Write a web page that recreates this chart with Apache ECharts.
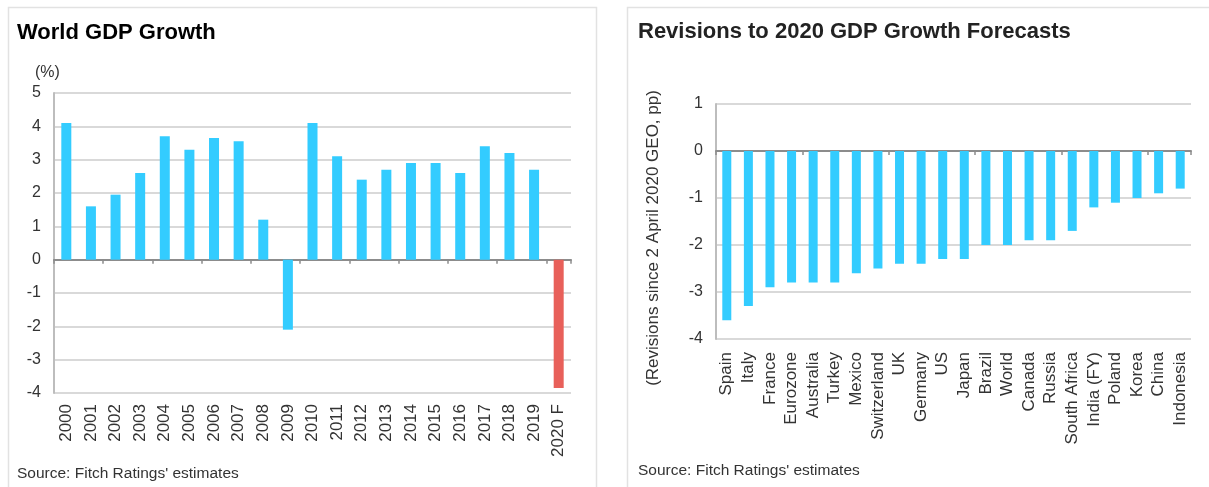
<!DOCTYPE html>
<html>
<head>
<meta charset="utf-8">
<script src="https://cdn.jsdelivr.net/npm/echarts@6/dist/echarts.min.js"></script>
<style>
  html, body { margin: 0; padding: 0; background: #fff; }
  #main { width: 1209px; height: 487px; }
</style>
</head>
<body>
<div id="main"></div>
<script>
  // left panel: world growth, %
  var years = ['2000', '2001', '2002', '2003', '2004', '2005', '2006', '2007', '2008', '2009',
    '2010', '2011', '2012', '2013', '2014', '2015', '2016', '2017', '2018', '2019', '2020 F']
  var worldGrowth = [4.1, 1.6, 1.95, 2.6, 3.7, 3.3, 3.65, 3.55, 1.2, -2.1,
    4.1, 3.1, 2.4, 2.7, 2.9, 2.9, 2.6, 3.4, 3.2, 2.7, -3.85]
  var forecastYear = '2020 F'

  // right panel: revisions since 2 April 2020 GEO, pp
  var countries = ['Spain', 'Italy', 'France', 'Eurozone', 'Australia', 'Turkey', 'Mexico',
    'Switzerland', 'UK', 'Germany', 'US', 'Japan', 'Brazil', 'World', 'Canada', 'Russia',
    'South Africa', 'India (FY)', 'Poland', 'Korea', 'China', 'Indonesia']
  var revisions = [-3.6, -3.3, -2.9, -2.8, -2.8, -2.8, -2.6, -2.5, -2.4, -2.4, -2.3, -2.3,
    -2.0, -2.0, -1.9, -1.9, -1.7, -1.2, -1.1, -1.0, -0.9, -0.8]

  var leftTicks = { min: -4, max: 5, interval: 1 }
  var rightTicks = { min: -4, max: 1, interval: 1 }

  var FONT = '"Liberation Sans", Arial, sans-serif'
  var BLUE = '#33ccff'
  var RED = '#e8605a'

  var chart = echarts.init(document.getElementById('main'), null, { renderer: 'canvas' })

  function labelAxis(idx, data, margin) {
    return {
      type: 'category', gridIndex: idx, data: data, position: 'bottom',
      axisLine: { show: false, onZero: false },
      axisTick: { show: false },
      axisLabel: { interval: 0, rotate: 90, margin: margin, fontSize: 17, color: '#333', fontFamily: FONT },
      splitLine: { show: false }
    }
  }
  // second category axis just to draw the line + ticks at zero
  function zeroAxis(idx, data) {
    return {
      type: 'category', gridIndex: idx, data: data, position: 'top',
      axisLine: { show: true, onZero: true, lineStyle: { color: '#8c8c8c', width: 2 } },
      axisTick: { show: true, inside: true, length: 4, lineStyle: { color: '#8c8c8c', width: 1.5 } },
      axisLabel: { show: false },
      splitLine: { show: false }
    }
  }
  function valueAxis(idx, t) {
    return {
      type: 'value', gridIndex: idx, min: t.min, max: t.max, interval: t.interval,
      axisLine: { show: true, lineStyle: { color: '#bdbdbd', width: 2 } },
      axisTick: { show: false },
      axisLabel: { fontSize: 16, color: '#333', margin: 13, fontFamily: FONT },
      splitLine: { show: true, lineStyle: { color: '#d9d9d9', width: 2 } }
    }
  }

  chart.setOption({
    animation: false,
    textStyle: { fontFamily: FONT },
    grid: [
      { left: 54, right: 638, top: 93, bottom: 94, outerBoundsMode: 'none' },
      { left: 716, right: 18, top: 104, bottom: 148, outerBoundsMode: 'none' }
    ],
    xAxis: [labelAxis(0, years, 11), zeroAxis(0, years), labelAxis(1, countries, 13), zeroAxis(1, countries)],
    yAxis: [valueAxis(0, leftTicks), valueAxis(1, rightTicks)],
    graphic: [
      { type: 'rect', shape: { x: 8.5, y: 7.5, width: 588, height: 490 }, style: { fill: 'none', stroke: '#e2e2e2', lineWidth: 1.5 } },
      { type: 'rect', shape: { x: 627.5, y: 7.5, width: 600, height: 490 }, style: { fill: 'none', stroke: '#e2e2e2', lineWidth: 1.5 } },
      { type: 'text', left: 17, top: 22, style: { text: 'World GDP Growth', font: 'bold 22px ' + FONT, fill: '#000' } },
      { type: 'text', left: 638, top: 21, style: { text: 'Revisions to 2020 GDP Growth Forecasts', font: 'bold 22px ' + FONT, fill: '#222' } },
      { type: 'text', left: 35, top: 65, style: { text: '(%)', font: '16px ' + FONT, fill: '#333' } },
      {
        type: 'text', x: 653, y: 238, rotation: Math.PI / 2,
        style: { text: '(Revisions since 2 April 2020 GEO, pp)', font: '17px ' + FONT, fill: '#333', align: 'center', verticalAlign: 'middle' }
      },
      { type: 'text', left: 17, top: 466, style: { text: "Source: Fitch Ratings' estimates", font: '15.5px ' + FONT, fill: '#333' } },
      { type: 'text', left: 638, top: 463, style: { text: "Source: Fitch Ratings' estimates", font: '15.5px ' + FONT, fill: '#333' } }
    ],
    series: [
      {
        type: 'bar', xAxisIndex: 0, yAxisIndex: 0, barWidth: 10,
        data: worldGrowth,
        itemStyle: {
          color: function (p) { return years[p.dataIndex] === forecastYear ? RED : BLUE }
        }
      },
      {
        type: 'bar', xAxisIndex: 2, yAxisIndex: 1, barWidth: 9,
        data: revisions,
        itemStyle: { color: BLUE }
      }
    ]
  })
</script>
</body>
</html>
